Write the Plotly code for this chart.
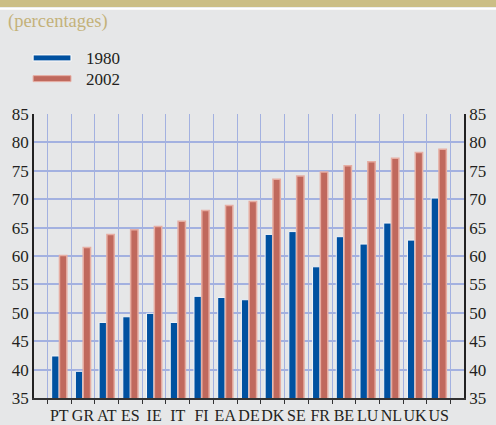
import plotly.graph_objects as go

# Datos
paises = ['PT', 'GR', 'AT', 'ES', 'IE', 'IT', 'FI', 'EA', 'DE',
          'DK', 'SE', 'FR', 'BE', 'LU', 'NL', 'UK', 'US']
v1980 = [42.4, 39.7, 48.3, 49.3, 49.9, 48.3, 52.9, 52.7, 52.3,
         63.8, 64.3, 58.1, 63.4, 62.1, 65.8, 62.8, 70.2]
v2002 = [60.1, 61.5, 63.8, 64.6, 65.2, 66.1, 68.0, 68.9, 69.6,
         73.5, 74.1, 74.8, 75.9, 76.6, 77.2, 78.2, 78.8]
yticks = [35, 40, 45, 50, 55, 60, 65, 70, 75, 80, 85]

fuente = 'Liberation Serif'
azul = '#0051a0'
rojo = '#c0695d'

trace_1980 = go.Bar(
    x=paises, y=v1980, name='1980',
    marker=dict(color=azul, line=dict(color='#f4f6fb', width=1)),
)
trace_2002 = go.Bar(
    x=paises, y=v2002, name='2002',
    marker=dict(color=rojo, line=dict(color='#e6ada2', width=1.5)),
)

fig = go.Figure(data=[trace_1980, trace_2002])

# leyenda dibujada a mano (muestras anchas como en el original)
leyenda_shapes = [
    dict(type='rect', xref='paper', yref='paper', x0=-0.002, x1=0.086,
         y0=1.187, y1=1.208, fillcolor=azul, line=dict(color='white', width=1)),
    dict(type='rect', xref='paper', yref='paper', x0=-0.002, x1=0.086,
         y0=1.114, y1=1.135, fillcolor=rojo, line=dict(color='#e6ada2', width=1)),
]
leyenda_textos = [
    dict(text='1980', xref='paper', yref='paper', x=0.116, y=1.197,
         xanchor='left', yanchor='middle', showarrow=False),
    dict(text='2002', xref='paper', yref='paper', x=0.116, y=1.123,
         xanchor='left', yanchor='middle', showarrow=False),
]

fig.update_layout(
    width=496, height=425,
    barmode='group', bargap=0.34, bargroupgap=0.06,
    margin=dict(l=34, r=32, t=114, b=27),
    paper_bgcolor='#e6e7e8',
    plot_bgcolor='#e6e7e8',
    font=dict(family=fuente, size=17, color='#231f20'),
    showlegend=False,
    shapes=[
        dict(type='rect', xref='paper', yref='paper', x0=-0.1, x1=1.1,
             y0=1.377, y1=1.45, fillcolor='#cbbe86', line=dict(width=0),
             layer='below'),
        dict(type='line', xref='paper', yref='paper', x0=-0.1, x1=1.1,
             y0=1.371, y1=1.371, line=dict(color='white', width=2)),
    ] + leyenda_shapes,
    annotations=[
        dict(text='(percentages)', xref='paper', yref='paper',
             x=-0.064, y=1.327, xanchor='left', yanchor='middle',
             showarrow=False, font=dict(size=18.5, color='#c4b27a')),
    ] + leyenda_textos,
)

fig.update_xaxes(
    showgrid=True, gridcolor='#a3b1e0', gridwidth=1,
    tickson='boundaries', ticks='outside', ticklen=4, tickcolor='#333333',
    showline=True, linecolor='#333333', linewidth=1.5,
    tickfont=dict(size=16), tickangle=0, automargin=False,
    ticklabelstandoff=2,
)

fig.update_yaxes(
    range=[35, 85], tickvals=yticks, showgrid=True,
    gridcolor='#a3b1e0', gridwidth=1.5,
    showline=True, linecolor='#222222', linewidth=1.5,
    ticks='', zeroline=False, tickfont=dict(size=17), automargin=False,
)

fig.update_layout(
    yaxis2=dict(
        overlaying='y', side='right', range=[35, 85], tickvals=yticks,
        showgrid=False, showline=True, linecolor='#222222', linewidth=1.5,
        ticks='', zeroline=False, tickfont=dict(size=17), automargin=False,
    )
)
fig.add_trace(go.Scatter(x=paises, y=v1980, yaxis='y2', mode='markers',
                         marker=dict(opacity=0), showlegend=False,
                         hoverinfo='skip'))

fig.write_html('out.html',
               config={'displayModeBar': False},
               post_script="document.body.style.margin='0';"
                           "document.body.style.overflow='hidden';")
